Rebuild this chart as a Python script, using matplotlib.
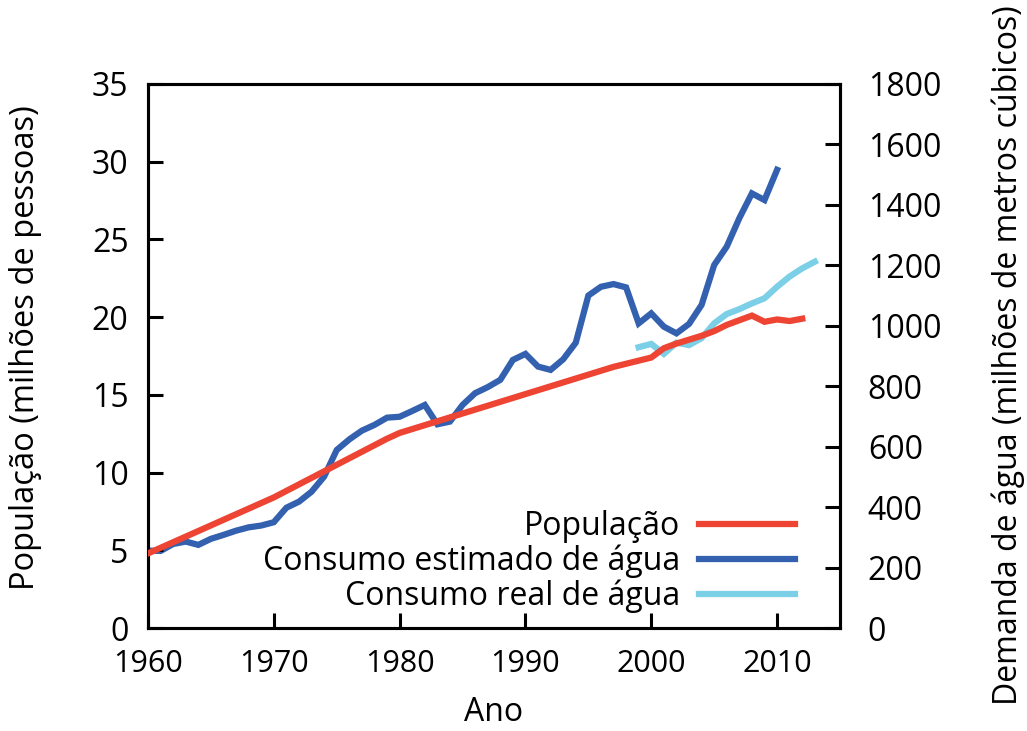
import matplotlib
matplotlib.use("Agg")
import matplotlib.pyplot as plt
from matplotlib import font_manager

names = {f.name for f in font_manager.fontManager.ttflist}
MAIN = "Open Sans" if "Open Sans" in names else "DejaVu Sans"
plt.rcParams["font.family"] = [MAIN, "DejaVu Sans"]

# ---- data ----
years_pop = list(range(1960, 2013))
population = [4.8, 5.16, 5.52, 5.88, 6.24, 6.6, 6.96, 7.32, 7.68, 8.04, 8.4,
              8.82, 9.24, 9.66, 10.08, 10.5, 10.92, 11.34, 11.76, 12.18, 12.55,
              12.8, 13.05, 13.3, 13.55, 13.8, 14.05, 14.3, 14.55, 14.8, 15.05,
              15.3, 15.55, 15.8, 16.05, 16.3, 16.55, 16.8, 17.0, 17.2, 17.4,
              18.0, 18.3, 18.55, 18.8, 19.1, 19.5, 19.8, 20.1, 19.7, 19.85,
              19.75, 19.9]

years_est = list(range(1960, 2011))
water_est = [256, 255, 278, 286, 275, 295, 308, 322, 333, 339, 350,
             398, 418, 451, 501, 589, 624, 653, 672, 696, 699,
             718, 738, 674, 683, 738, 777, 797, 821, 887, 907,
             865, 854, 889, 944, 1100, 1129, 1138, 1127, 1008, 1041,
             997, 975, 1006, 1069, 1201, 1262, 1356, 1438, 1416, 1516]

years_real = list(range(1999, 2014))
water_real = [929, 940, 907, 944, 936, 959, 1008, 1039, 1055, 1074, 1091,
              1129, 1163, 1190, 1212]

labels = ["População", "Consumo estimado de água", "Consumo real de água"]
colors = ["#EE4433", "#3461AF", "#7BCFE6"]

xticks = [1960, 1970, 1980, 1990, 2000, 2010]
yticks_left = [0, 5, 10, 15, 20, 25, 30, 35]
yticks_right = [0, 200, 400, 600, 800, 1000, 1200, 1400, 1600, 1800]

# ---- figure ----
fig = plt.figure(figsize=(10.27, 7.31), dpi=100)
ax = fig.add_axes([0.1441, 0.1409, 0.6738, 0.7442])
ax2 = ax.twinx()

lw = 4.5
l1, = ax.plot(years_pop, population, color=colors[0], lw=lw, label=labels[0],
              solid_joinstyle="miter", zorder=3)
l2, = ax2.plot(years_est, water_est, color=colors[1], lw=lw, label=labels[1],
               solid_joinstyle="miter")
l3, = ax2.plot(years_real, water_real, color=colors[2], lw=lw, label=labels[2],
               solid_joinstyle="miter")

ax.set_xlim(1960, 2015)
ax.set_ylim(0, 35)
ax2.set_ylim(0, 1800)
ax.set_xticks(xticks)
ax.set_yticks(yticks_left)
ax2.set_yticks(yticks_right)

fs = 23
for a in (ax, ax2):
    for s in a.spines.values():
        s.set_linewidth(2.2)
ax.tick_params(axis="both", direction="in", length=11, width=2.2, labelsize=fs)
ax.tick_params(axis="y", pad=14)
ax.tick_params(axis="x", pad=15, labelsize=22)
ax2.tick_params(axis="y", direction="in", length=11, width=2.2, labelsize=fs, pad=20)

ax.set_xlabel("Ano", fontsize=fs, labelpad=12)
ax.set_ylabel("População (milhões de pessoas)", fontsize=fs + 0.5)
ax2.set_ylabel("Demanda de água (milhões de metros cúbicos)", fontsize=fs)
ax.yaxis.set_label_coords(-0.153, 0.516)
ax2.yaxis.set_label_coords(1.219, 0.502)

ax.set_zorder(ax2.get_zorder() + 1)
ax.patch.set_visible(False)

leg = ax.legend(handles=[l1, l2, l3], loc="lower right",
                bbox_to_anchor=(0.935, 0.027), frameon=False, markerfirst=False,
                fontsize=fs, handlelength=3.0, handletextpad=0.6,
                labelspacing=0.05, borderpad=0, borderaxespad=0,
                alignment="right")

fig.savefig("out.png", dpi=100)
